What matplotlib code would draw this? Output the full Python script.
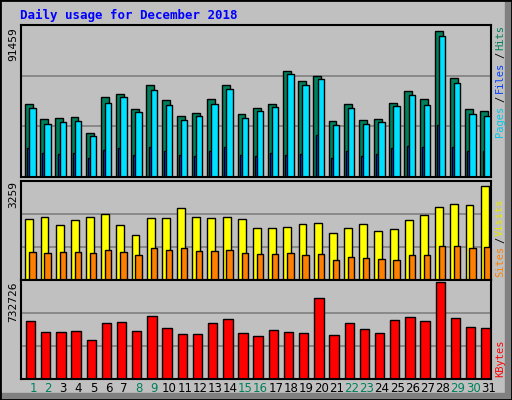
import matplotlib
matplotlib.use("Agg")
import matplotlib.pyplot as plt
from matplotlib.patches import Rectangle
import numpy as np

days = list(range(1, 32))
weekend_days = [1, 2, 8, 9, 15, 16, 22, 23, 29, 30]

# axis maxima printed on the left of each panel
hits_axis_max = 91459
visits_axis_max = 3259
kbytes_axis_max = 732726

hits = [44500, 35400, 36000, 36600, 26800, 48800, 51200, 41500, 56700, 47000,
        37200, 39000, 47600, 56700, 38400, 42100, 44500, 65200, 59100, 62200,
        34100, 44500, 34800, 35400, 45700, 53000, 47600, 89600, 61000, 41500, 40200]
files = [42100, 32300, 33500, 34100, 25000, 45700, 48800, 39600, 53700, 43900,
         34800, 37200, 45100, 54300, 36000, 40800, 42700, 63400, 56700, 60400,
         31700, 42100, 32300, 33500, 43300, 50600, 43900, 86600, 57900, 38400, 37200]
pages = [17700, 14600, 14000, 14600, 11600, 16500, 17700, 13400, 18300, 15900,
         13400, 12800, 15900, 18300, 13400, 12800, 14600, 13400, 14000, 25600,
         11600, 15900, 12800, 14000, 17700, 18900, 18300, 31700, 18300, 15900, 15900]
visits = [2056, 2124, 1852, 2022, 2124, 2227, 1852, 1511, 2090, 2090,
          2431, 2124, 2090, 2124, 2056, 1749, 1749, 1784, 1886, 1920,
          1579, 1749, 1886, 1647, 1715, 2022, 2192, 2465, 2567, 2533, 3147]
sites = [932, 897, 932, 932, 897, 1000, 932, 829, 1068, 1000,
         1068, 966, 966, 1000, 897, 863, 863, 897, 829, 863,
         659, 761, 727, 693, 659, 829, 829, 1136, 1136, 1068, 1102]
kbytes = [435900, 355700, 355700, 363700, 291500, 419900, 427900, 363700, 476000, 387700,
          339600, 339600, 419900, 451900, 347600, 323600, 371700, 355700, 347600, 612400,
          331600, 419900, 379700, 347600, 443900, 468000, 435900, 732726, 459900, 395800, 387700]

W, H = 512, 400
BG = "#C0C0C0"
GREEN = "#00805C"
X0, X1 = 20.5, 491
XMIN = 0.98
XSPAN = 31.0

fig = plt.figure(figsize=(W / 100, H / 100), dpi=100)
fig.patch.set_facecolor(BG)

# outer frame with shadow
fig.patches.append(Rectangle((0, 0), 1, 1, transform=fig.transFigure, fill=False,
                             edgecolor="black", lw=2))
fig.patches.append(Rectangle((505 / W, 0), 7 / W, 1, transform=fig.transFigure,
                             color="#808080", zorder=0))
fig.patches.append(Rectangle((0, 0), 1, 7 / H, transform=fig.transFigure,
                             color="#808080", zorder=0))


def panel(top, bottom, ymax):
    ax = fig.add_axes([X0 / W, 1 - bottom / H, (X1 - X0) / W, (bottom - top) / H])
    ax.set_facecolor(BG)
    ax.set_xlim(XMIN, XMIN + XSPAN)
    ax.set_ylim(0, ymax * 1.02)
    ax.set_xticks([])
    ax.set_yticks([])
    for s in ax.spines.values():
        s.set_linewidth(1.5)
    for f in (1 / 3, 2 / 3):
        ax.axhline(ymax * 1.02 * f, color="#808080", lw=1.2, zorder=0)
    return ax


x = np.array(days, dtype=float)
kw = dict(edgecolor="black", linewidth=1, align="edge")

ax1 = panel(25, 177, hits_axis_max)
ax1.bar(x + 0.28, hits, width=0.52, color=GREEN, **kw)
ax1.bar(x + 0.42, pages, width=0.2, color="#0040FF", **kw)
ax1.bar(x + 0.55, files, width=0.42, color="#00E0FF", **kw)

ax2 = panel(181, 280, visits_axis_max)
ax2.bar(x + 0.3, visits, width=0.52, color="#FFFF00", **kw)
ax2.bar(x + 0.55, sites, width=0.42, color="#FF8000", **kw)

ax3 = panel(280, 379, kbytes_axis_max)
ax3.bar(x + 0.33, kbytes, width=0.62, color="#FF0000", **kw)


def ftext(px, py, s, **k):
    fig.text(px / W, 1 - py / H, s, **k)


mono = dict(family="DejaVu Sans Mono")
ftext(20, 15, "Daily usage for December 2018", color="#0000FF", fontsize=9,
      fontweight="bold", va="center", **mono)

ftext(13, 27, str(hits_axis_max), rotation=90, va="top", ha="center", fontsize=8, **mono)
ftext(13, 181, str(visits_axis_max), rotation=90, va="top", ha="center", fontsize=8, **mono)
ftext(13, 282, str(kbytes_axis_max), rotation=90, va="top", ha="center", fontsize=8, **mono)

# right-hand legends
rk = dict(rotation=90, va="bottom", ha="center", fontsize=7.5, **mono)
ftext(500, 137, "Pages", color="#00C8E8", **rk)
ftext(500, 102, "/", color="black", **rk)
ftext(500, 93, "Files", color="#0040FF", **rk)
ftext(500, 58, "/", color="black", **rk)
ftext(500, 50, "Hits", color=GREEN, **rk)
ftext(500, 277, "Sites", color="#FF8000", **rk)
ftext(500, 243, "/", color="black", **rk)
ftext(500, 236, "Visits", color="#E8E800", **rk)
ftext(500, 377, "KBytes", color="#FF0000", **rk)

# day labels
for d in days:
    px = X0 + (d + 0.8 - XMIN) * ((X1 - X0) / XSPAN)
    ftext(px, 389, str(d), ha="center", va="center", fontsize=8.5,
          color=GREEN if d in weekend_days else "black")

fig.savefig("out.png", dpi=100, facecolor=BG)
